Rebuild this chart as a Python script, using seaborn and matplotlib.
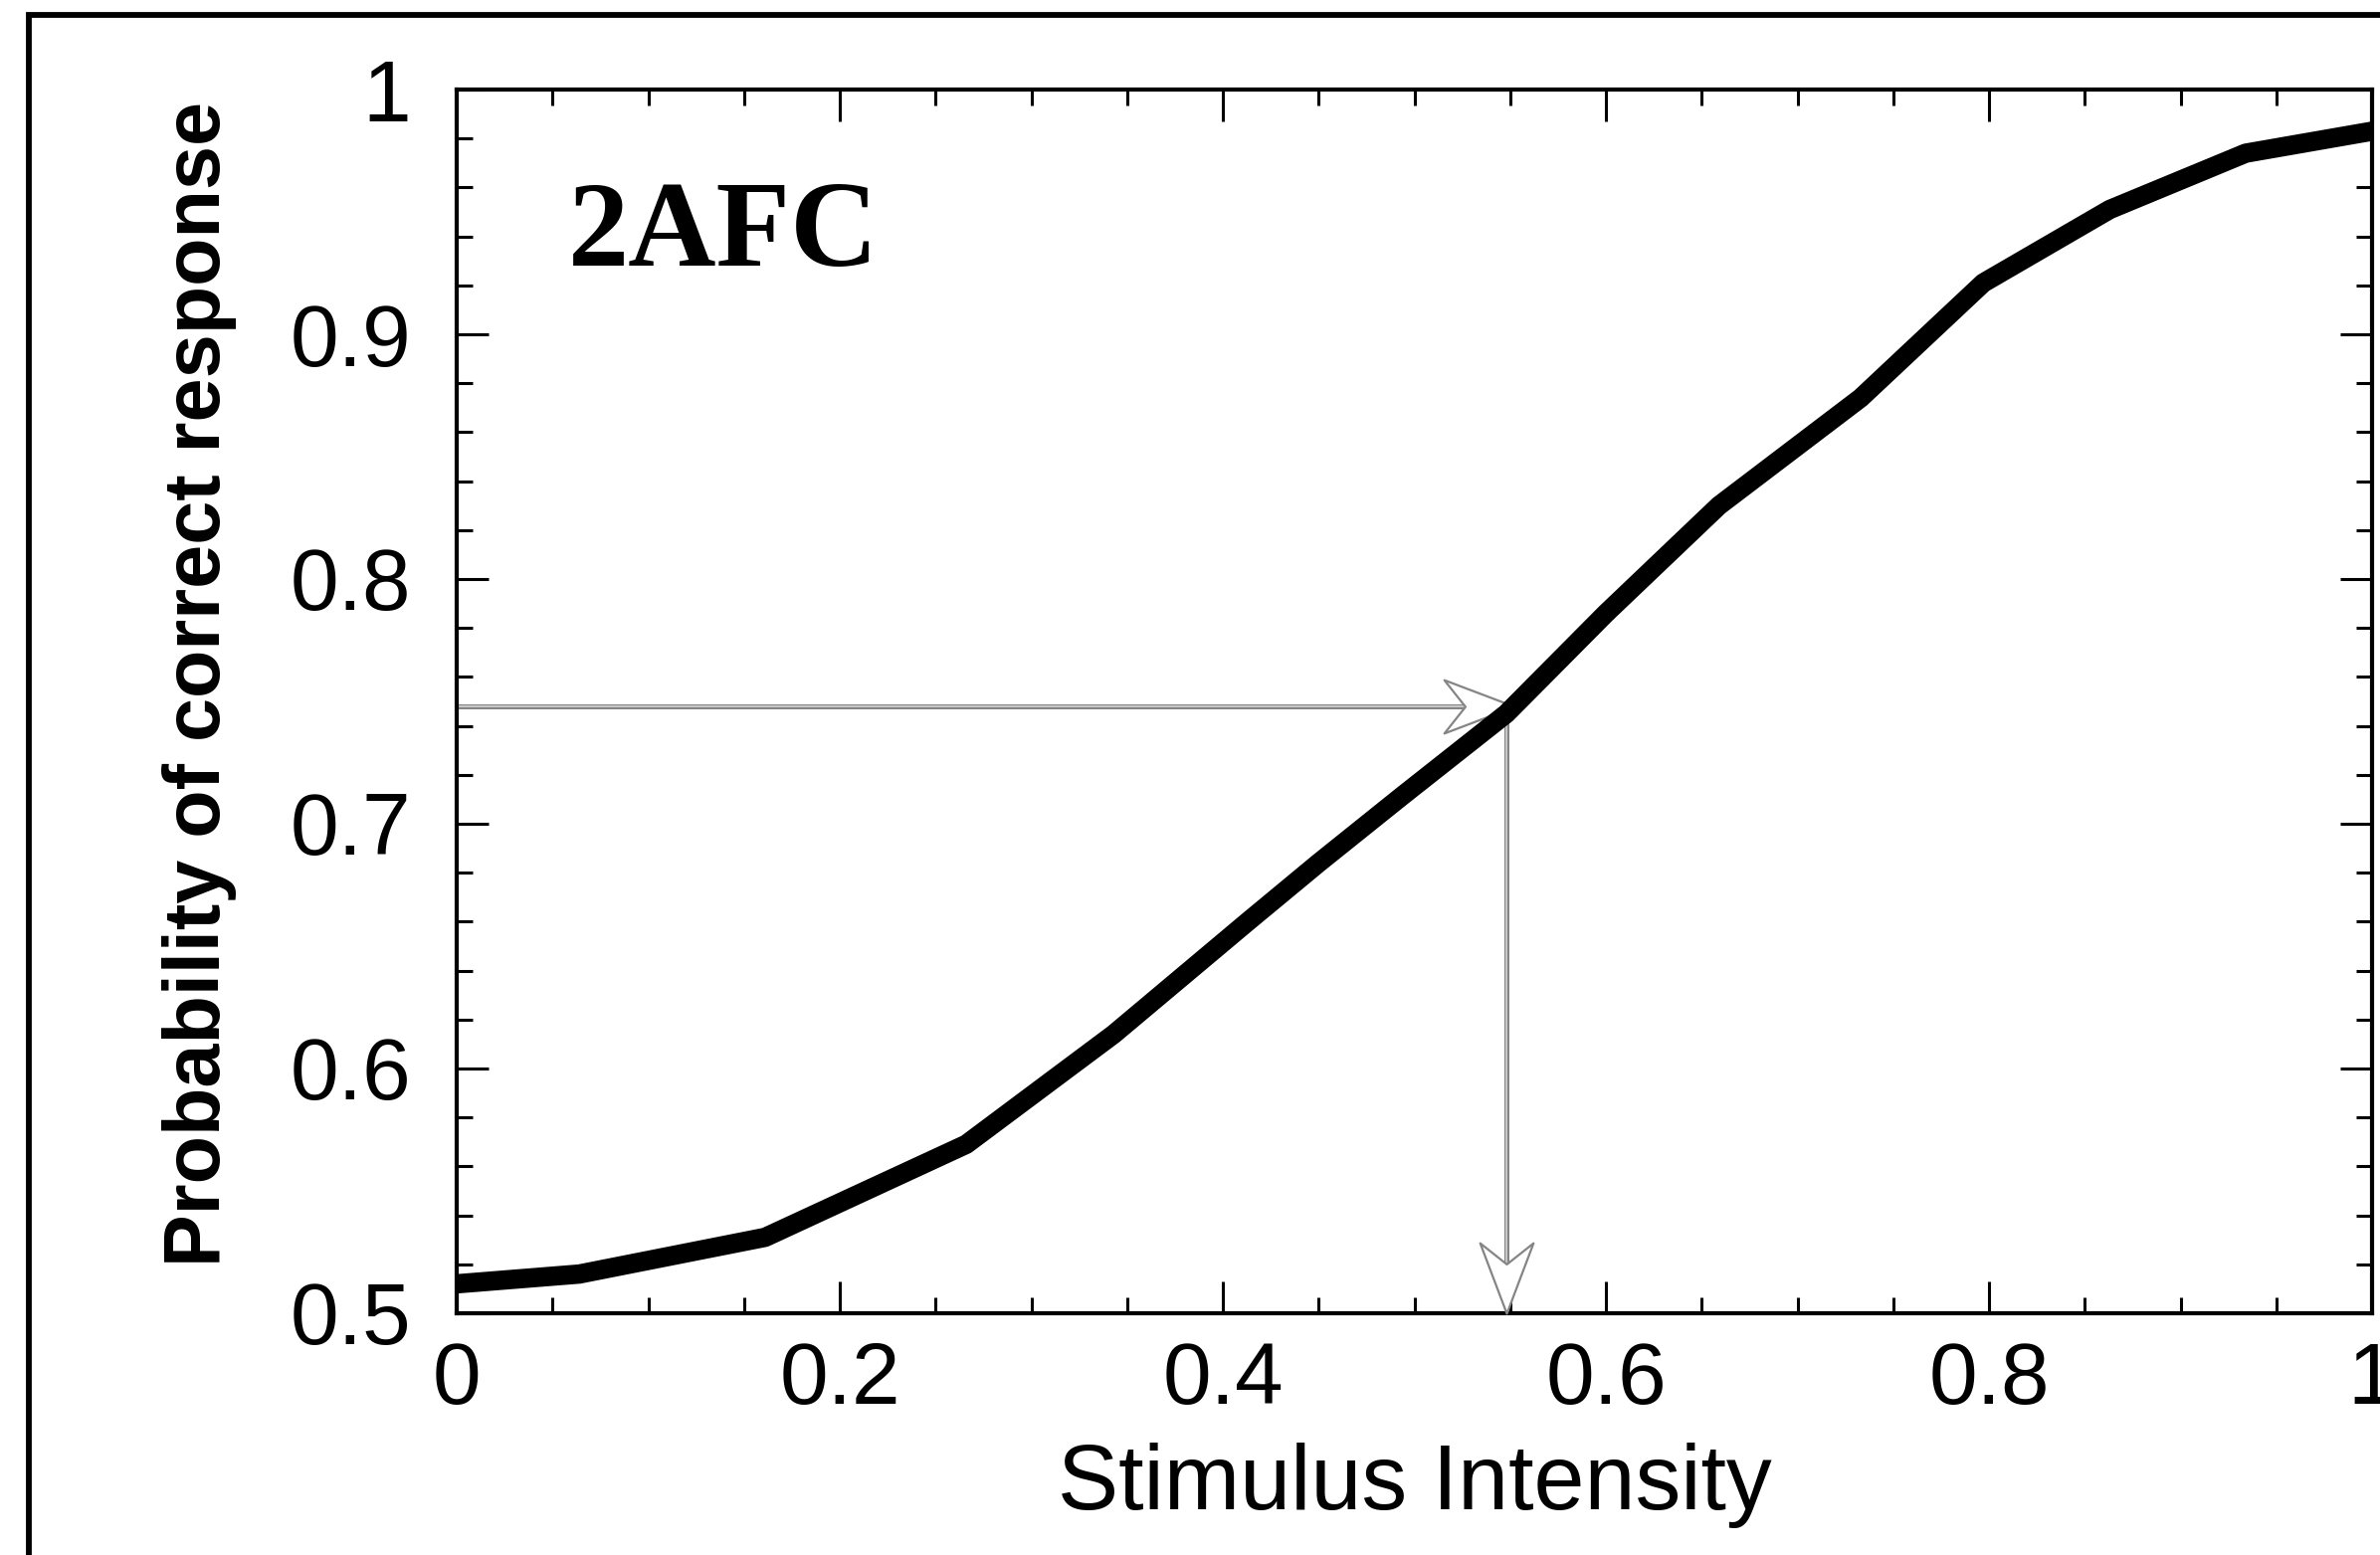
import numpy as np
import matplotlib.pyplot as plt
import seaborn as sns
from matplotlib.path import Path
from matplotlib.patches import Rectangle

# psychometric function
intensity = [0.0, 0.064, 0.161, 0.266, 0.343, 0.413, 0.450, 0.493, 0.548,
             0.600, 0.659, 0.733, 0.797, 0.863, 0.934, 1.0]
p_correct = [0.512, 0.516, 0.531, 0.569, 0.614, 0.660, 0.684, 0.711, 0.745,
             0.786, 0.830, 0.874, 0.921, 0.951, 0.974, 0.983]

# threshold (75% correct) marked with the two arrows
thresh_x = 0.548
thresh_p = 0.748
h_arrow_tip = 0.552

x_major = [0, 0.2, 0.4, 0.6, 0.8, 1.0]
x_labels = ['0', '0.2', '0.4', '0.6', '0.8', '1']
y_major = [0.5, 0.6, 0.7, 0.8, 0.9, 1.0]
y_labels = ['0.5', '0.6', '0.7', '0.8', '0.9', '1']

sns.set_theme(style='ticks')
plt.rcParams['font.family'] = ['Liberation Sans', 'DejaVu Sans']
plt.rcParams['text.color'] = 'black'
plt.rcParams['axes.labelcolor'] = 'black'
plt.rcParams['xtick.color'] = 'black'
plt.rcParams['ytick.color'] = 'black'

fig = plt.figure(figsize=(23.92, 15.63), dpi=100)
ax = fig.add_axes([0.1919, 0.1555, 0.8048, 0.7869])

# arrow shafts (hollow-looking grey lines)
gray = '#858585'
for col, lw in [(gray, 3.6), ('#dadada', 1.1)]:
    ax.plot([0, h_arrow_tip - 0.02], [thresh_p, thresh_p], color=col, lw=lw,
            solid_capstyle='butt', zorder=2, clip_on=False)
    ax.plot([thresh_x, thresh_x], [thresh_p, 0.515], color=col, lw=lw,
            solid_capstyle='butt', zorder=2, clip_on=False)

# notched arrow heads as custom markers (tip at origin)
codes = [Path.MOVETO, Path.LINETO, Path.LINETO, Path.LINETO, Path.CLOSEPOLY]
head_right = Path([(0, 0), (-70, 26.5), (-49, 0), (-70, -26.5), (0, 0)], codes)
head_down = Path([(0, 0), (-26.5, 70), (0, 49), (26.5, 70), (0, 0)], codes)
ax.plot([h_arrow_tip], [thresh_p], marker=head_right, ms=102, mfc='white',
        mec=gray, mew=1.6, ls='none', zorder=3, clip_on=False)
ax.plot([thresh_x], [0.5], marker=head_down, ms=102, mfc='white',
        mec=gray, mew=1.6, ls='none', zorder=3, clip_on=False)

sns.lineplot(x=intensity, y=p_correct, color='black', lw=14, ax=ax,
             zorder=4, clip_on=False)
ax.lines[-1].set_solid_capstyle('butt')

ax.set_xlim(0, 1)
ax.set_ylim(0.5, 1)
ax.set_xticks(x_major)
ax.set_xticklabels(x_labels)
ax.set_yticks(y_major)
ax.set_yticklabels(y_labels)
ax.set_xticks(np.arange(0, 1.0001, 0.05), minor=True)
ax.set_yticks(np.arange(0.5, 1.0001, 0.02), minor=True)

ax.tick_params(which='both', direction='in', top=True, right=True,
               color='black', width=2.2, labelcolor='black')
ax.tick_params(which='major', length=23, labelsize=63)
ax.tick_params(which='minor', length=11.5)
ax.tick_params(axis='x', which='major', pad=20)
ax.tick_params(axis='y', which='major', pad=33)

for s in ax.spines.values():
    s.set_visible(True)
    s.set_color('black')
    s.set_linewidth(3)

ax.set_xlabel('Stimulus Intensity', fontsize=66, color='black')
ax.xaxis.set_label_coords(0.5, -0.106)
ax.set_ylabel('Probability of correct response', fontsize=57,
              fontweight='bold', color='black')
ax.yaxis.set_label_coords(-0.1148, 0.514)

ax.text(0.0582, 0.856, '2AFC', transform=ax.transAxes, fontsize=88,
        fontweight='bold', family=['Liberation Serif', 'DejaVu Serif'],
        va='baseline', ha='left', color='black')

# outer frame, only top and left edges fall inside the image
fig.add_artist(Rectangle((0.0121, -0.2), 1.5, 0.9904 + 0.2, fill=False,
                         lw=4.2, ec='black', transform=fig.transFigure))

fig.savefig('out.png', dpi=100, facecolor='white')
